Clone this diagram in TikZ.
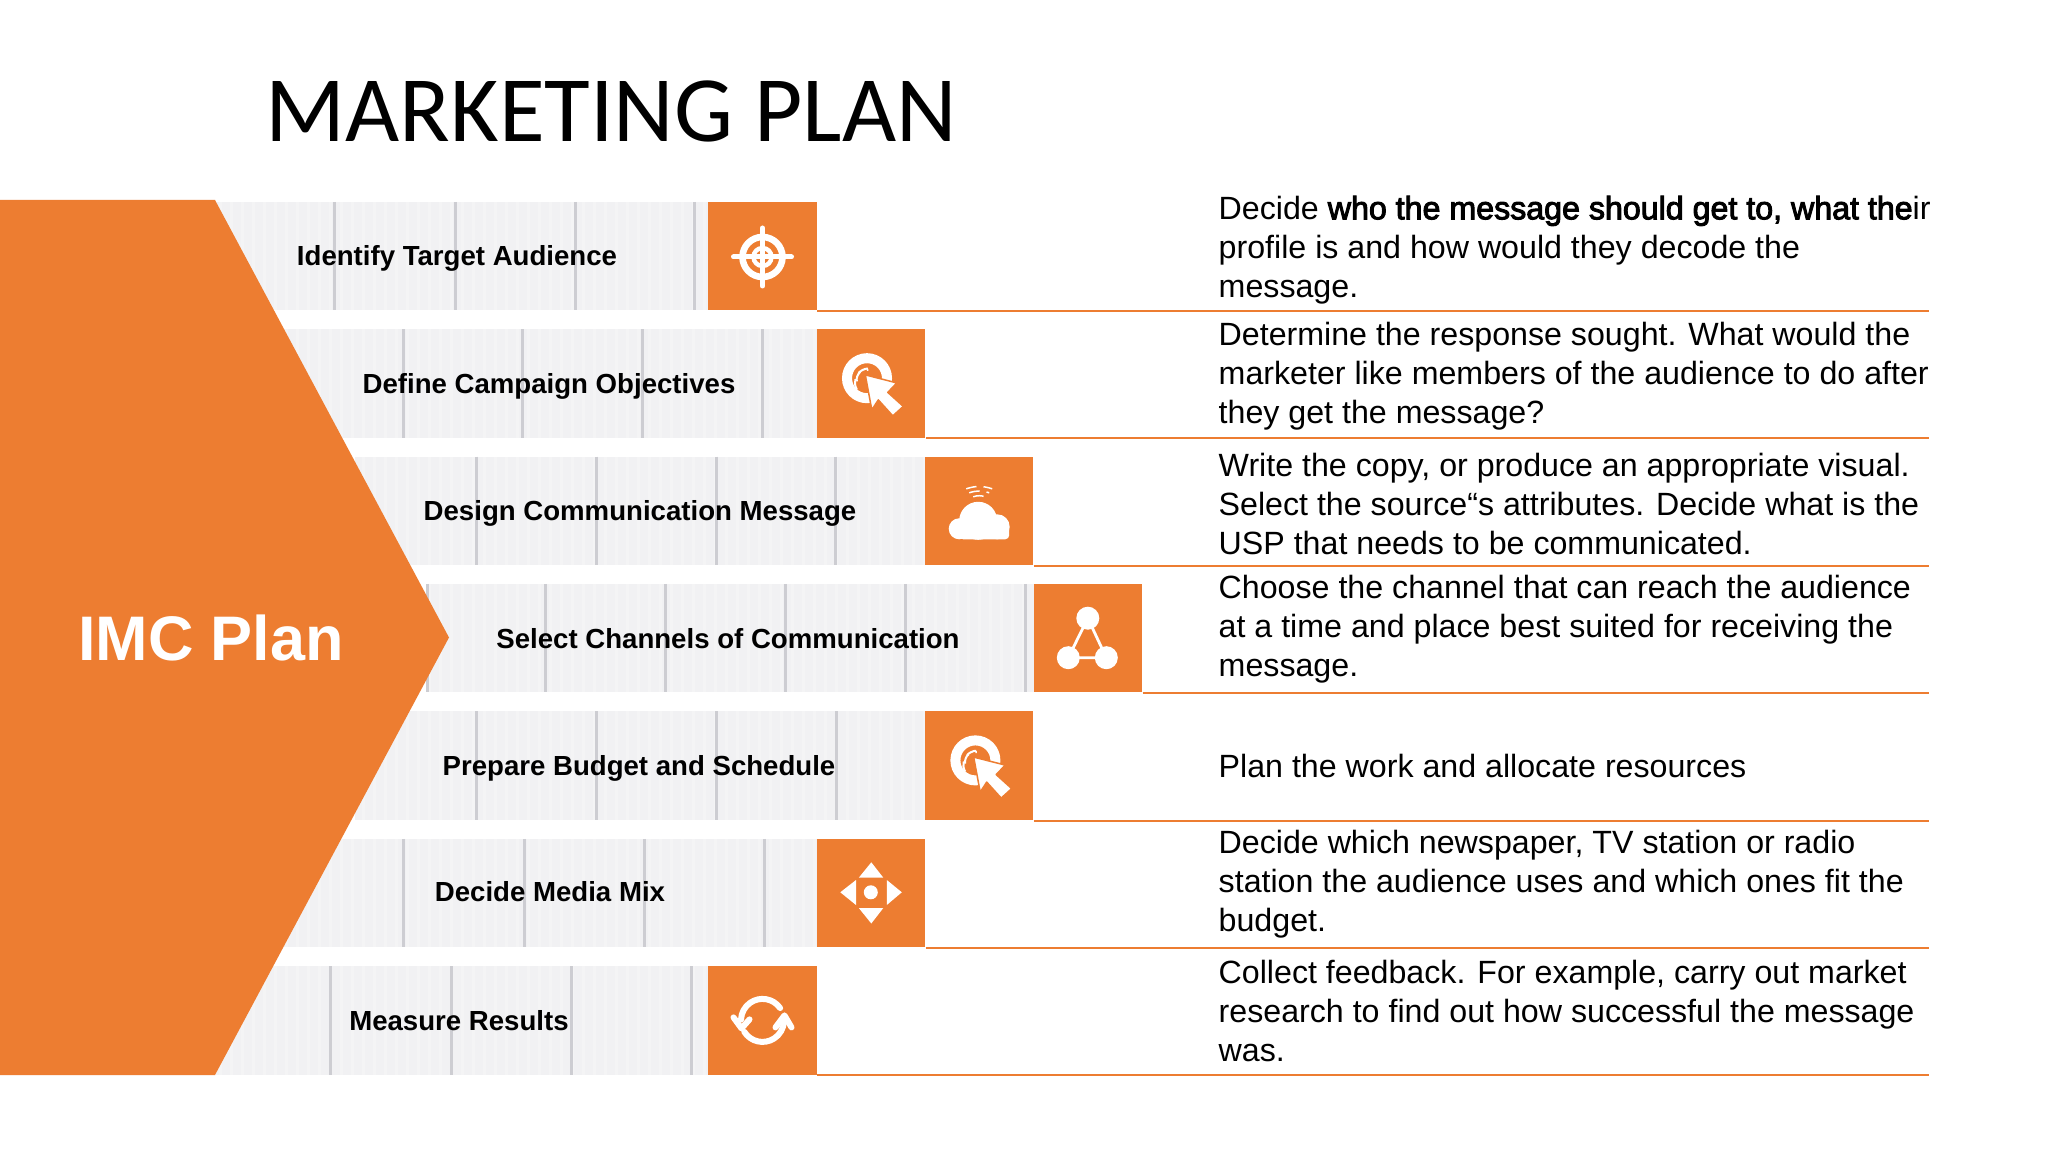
\documentclass[tikz,border=0pt]{standalone}
\usepackage{fontspec}
\setmainfont{Liberation Sans}
\newfontfamily\titlefont{Carlito}
\newfontfamily\fakebold[FakeBold=3]{Liberation Sans}
\definecolor{planorange}{HTML}{ED7D31}
\definecolor{barfill}{HTML}{F1F1F3}
\definecolor{barline}{HTML}{CDCDD2}
\tikzset{
	iconbox/.style={fill=planorange,minimum width=1.085cm,minimum height=1.085cm,inner sep=0pt},
	rowlabel/.style={inner sep=0pt,font=\fontsize{7.85}{10}\selectfont\bfseries},
	rowtext/.style={anchor=west,align=left,inner sep=0pt,font=\fontsize{9.15}{11.1}\selectfont},
	rowrule/.style={planorange,line width=0.02cm},
	iconline/.style={white,line cap=round,line join=round}
}
\newcommand{\clickicon}[1]{
	\begin{scope}[shift={(#1.center)}]
		\draw[white,line width=0.1cm] (-3.8,-5.2) circle[radius=20];
		\draw[white,line width=0.02cm,densely dashed] (-14,-2) arc[start angle=170,end angle=280,radius=10];
		\draw[white,line width=0.02cm,densely dashed] (-14,6) arc[start angle=150,end angle=270,radius=14];
		\filldraw[fill=white,draw=planorange,line width=0.015cm,line join=round] (-5.5,-8.5) -- (26,-0.5) -- (17,9) -- (32.5,23) -- (22,32.5) -- (7.5,16.5) -- (1,26.5) -- cycle;
	\end{scope}
}
\begin{document}
\begin{tikzpicture}[x=0.01cm,y=-0.01cm]
	\useasboundingbox (0,0) rectangle (2048,1152);
	\fill[white] (0,0) rectangle (2048,1152);

	\foreach \l/\r/\y/\a/\b/\c/\d in {216/708/256/334/455/575/694,284/817/383.4/403/522/642/762,355/925/510.8/476/596/716/835,427/1034/638.2/545/665/785/905,355/925/765.6/476/596/716/836,284/817/893/403/524/644/764,216/708/1020.4/330/451/571/691}{
		\fill[barfill] (\l,\y-54.2) rectangle (\r,\y+54.2);
		\begin{scope}
			\clip (\l,\y-54.2) rectangle (\r,\y+54.2);
			\foreach \t in {220,231,...,1030}
				\draw[white,opacity=0.22,line width=0.03cm] (\t,\y-54.2) -- (\t,\y+54.2);
		\end{scope}
		\foreach \v in {\a,\b,\c,\d}
			\draw[barline,line width=0.03cm] (\v,\y-54.2) -- (\v,\y+54.2);
	}
	\draw[barline,line width=0.03cm] (427,584) -- (427,692.4);
	\draw[barline,line width=0.03cm] (1025,584) -- (1025,692.4);

	\fill[planorange] (0,200) -- (215,200) -- (449,637.5) -- (215,1075) -- (0,1075) -- cycle;
	\node[inner sep=0pt,white,font=\fontsize{17.9}{22}\selectfont\bfseries] (plan) at (211,638) {IMC Plan};
	\node[inner sep=0pt,font=\fontsize{26.6}{32}\selectfont\titlefont] (title) at (611,111) {MARKETING PLAN};

	\node[iconbox] (sqA) at (762.5,256) {};
	\node[iconbox] (sqB) at (870.8,383.4) {};
	\node[iconbox] (sqC) at (979.2,510.8) {};
	\node[iconbox] (sqD) at (1087.8,638.2) {};
	\node[iconbox] (sqE) at (979.2,765.6) {};
	\node[iconbox] (sqF) at (870.8,893) {};
	\node[iconbox] (sqG) at (762.5,1020.4) {};

	\foreach \n in {A,B,C,D,E,F,G}{
		\coordinate (end\n) at (1929,0 |- sq\n.south);
		\draw[rowrule] (sq\n.south east) -- (end\n);
	}

	\node[rowlabel] (labA) at (457,258.5) {Identify Target Audience};
	\node[rowlabel] (labB) at (549,386) {Define Campaign Objectives};
	\node[rowlabel] (labC) at (640,513) {Design Communication Message};
	\node[rowlabel] (labD) at (728,638.2) {Select Channels of Communication};
	\node[rowlabel] (labE) at (639,768) {Prepare Budget and Schedule};
	\node[rowlabel] (labF) at (550,892) {Decide Media Mix};
	\node[rowlabel] (labG) at (459,1020.4) {Measure Results};

	\node[rowtext] (txtA) at (1218,250) {Decide {\fakebold who the message should get to, what the}ir\\profile is and how would they decode the\\message.};
	\node[rowtext] (txtB) at (1218,376) {Determine the response sought. What would the\\marketer like members of the audience to do after\\they get the message?};
	\node[rowtext] (txtC) at (1218,504) {Write the copy, or produce an appropriate visual.\\Select the source“s attributes. Decide what is the\\USP that needs to be communicated.};
	\node[rowtext] (txtD) at (1218,629) {Choose the channel that can reach the audience\\at a time and place best suited for receiving the\\message.};
	\node[rowtext] (txtE) at (1218,766) {Plan the work and allocate resources};
	\node[rowtext] (txtF) at (1218,884) {Decide which newspaper, TV station or radio\\station the audience uses and which ones fit the\\budget.};
	\node[rowtext] (txtG) at (1218,1011) {Collect feedback. For example, carry out market\\research to find out how successful the message\\was.};

	\begin{scope}[shift={(sqA.center)}]
		\draw[white,line width=0.066cm] (0,1) circle[radius=20];
		\draw[white,line width=0.044cm] (0,1) circle[radius=9];
		\draw[iconline,line width=0.05cm] (-29,1) -- (29,1);
		\draw[iconline,line width=0.05cm] (0,-28) -- (0,30);
	\end{scope}

	\clickicon{sqB}
	\clickicon{sqE}

	\begin{scope}[shift={(sqC.center)}]
		\fill[white] (-1,10) circle[radius=19];
		\fill[white] (-20,18) circle[radius=10.5];
		\fill[white] (18,16) circle[radius=12.5];
		\fill[white,rounded corners=0.04cm] (-20,14) rectangle (30,28.5);
		\draw[white,line width=0.015cm,densely dashed] (-13,-22) to[bend left=18] (13,-22);
		\draw[white,line width=0.015cm,densely dashed] (-10,-18) to[bend left=18] (10,-18);
		\draw[white,line width=0.015cm,densely dashed] (-6,-14) to[bend left=18] (6,-14);
	\end{scope}

	\begin{scope}[shift={(sqD.center)}]
		\draw[white,line width=0.028cm] (0,-20) -- (-19.5,19.5) -- (18.5,19.5) -- cycle;
		\fill[white] (0,-20) circle[radius=11.5];
		\fill[white] (-19.5,19.5) circle[radius=11.5];
		\fill[white] (18.5,19.5) circle[radius=11.5];
	\end{scope}

	\begin{scope}[shift={(sqF.center)}]
		\fill[white] (0.5,-30.7) -- (12.5,-15.3) -- (-12,-15.3) -- cycle;
		\fill[white] (0.5,30.5) -- (12.5,15) -- (-12,15) -- cycle;
		\fill[white] (-30.5,-0.7) -- (-14.8,-13) -- (-14.8,12) -- cycle;
		\fill[white] (31,-0.7) -- (16,-13) -- (16,12) -- cycle;
		\fill[white] (0,-0.7) circle[radius=7];
	\end{scope}

	\begin{scope}[shift={(sqG.center)}]
		\draw[iconline,line width=0.06cm] (-35:21.5) arc[start angle=-35,end angle=-178,radius=21.5];
		\draw[iconline,line width=0.06cm] (-29,-3) -- (-21,8) -- (-13,-1);
		\draw[iconline,line width=0.06cm] (148:21.5) arc[start angle=148,end angle=2,radius=21.5];
		\draw[iconline,line width=0.06cm] (13,7) -- (22,-5) -- (29,7);
	\end{scope}
\end{tikzpicture}
\end{document}
